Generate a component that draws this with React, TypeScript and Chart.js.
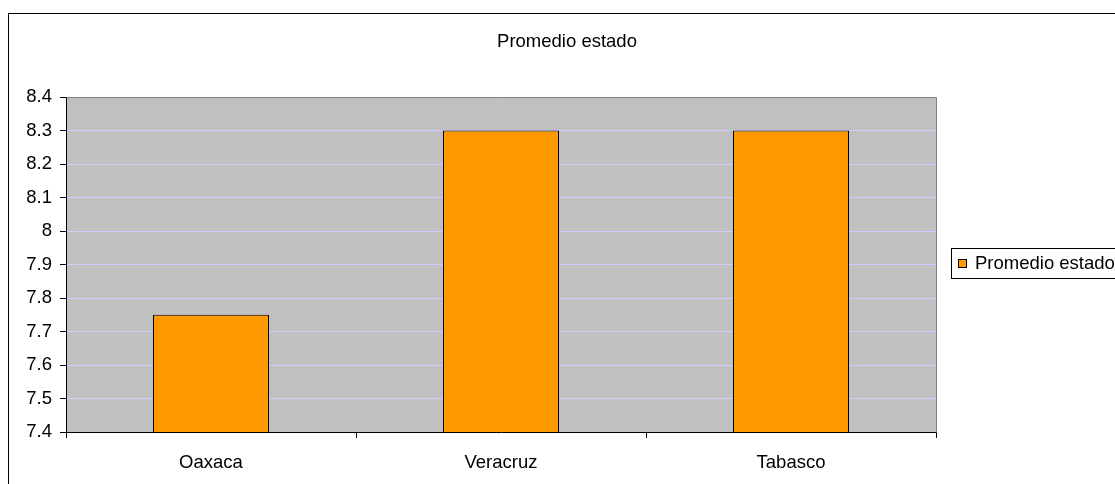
import React, { useEffect, useRef } from "react";
import { Chart, registerables } from "chart.js";

Chart.register(...registerables);

const categories: string[] = ["Oaxaca", "Veracruz", "Tabasco"];
const seriesLabel = "Promedio estado";
const seriesValues: number[] = [7.75, 8.3, 8.3];
const chartTitle = "Promedio estado";
const yMin = 7.4;
const yMax = 8.4;
const yStep = 0.1;

const FONT = "'Liberation Sans', Arial, sans-serif";
const FONT_SIZE = 18.5;

export default function App() {
  const ref = useRef<HTMLCanvasElement | null>(null);

  useEffect(() => {
    const canvas = ref.current;
    if (!canvas) return;

    const framePlugin = {
      id: "frame",
      beforeDraw(chart: any) {
        const { ctx, chartArea } = chart;
        ctx.save();
        ctx.fillStyle = "#ffffff";
        ctx.fillRect(0, 0, chart.width, chart.height);
        ctx.fillStyle = "#C0C0C0";
        ctx.fillRect(chartArea.left, chartArea.top, chartArea.right - chartArea.left, chartArea.bottom - chartArea.top);
        ctx.restore();
      },
      afterDraw(chart: any) {
        const { ctx, chartArea } = chart;
        ctx.save();
        // outer frame
        ctx.strokeStyle = "#000000";
        ctx.lineWidth = 1;
        ctx.strokeRect(8.5, 13.5, chart.width + 20, chart.height + 20);
        // title
        ctx.fillStyle = "#000000";
        ctx.font = `${FONT_SIZE}px ${FONT}`;
        ctx.textBaseline = "middle";
        ctx.textAlign = "center";
        ctx.fillText(chartTitle, 567, 42);
        // plot top and right border
        ctx.strokeStyle = "#808080";
        ctx.beginPath();
        ctx.moveTo(Math.round(chartArea.left) + 0.5, Math.round(chartArea.top) + 0.5);
        ctx.lineTo(Math.round(chartArea.right) + 0.5, Math.round(chartArea.top) + 0.5);
        ctx.lineTo(Math.round(chartArea.right) + 0.5, Math.round(chartArea.bottom) + 0.5);
        ctx.stroke();
        // legend
        const lx = 951.5;
        const ly = 248.5;
        ctx.strokeStyle = "#000000";
        ctx.fillStyle = "#ffffff";
        ctx.fillRect(lx, ly, 200, 30);
        ctx.strokeRect(lx, ly, 200, 30);
        ctx.fillStyle = "#FF9900";
        ctx.fillRect(958.5, 259.5, 8, 8);
        ctx.strokeRect(958.5, 259.5, 8, 8);
        ctx.fillStyle = "#000000";
        ctx.textAlign = "left";
        const label = chart.data.datasets[0].label as string;
        ctx.fillText(label, 975, 264);
        ctx.restore();
      },
    };

    const chart = new Chart(canvas, {
      type: "bar",
      data: {
        labels: categories,
        datasets: [
          {
            label: seriesLabel,
            data: seriesValues,
            backgroundColor: "#FF9900",
            borderColor: "#000000",
            borderWidth: 1,
            categoryPercentage: 1,
            barPercentage: 0.4,
          },
        ],
      },
      options: {
        responsive: false,
        animation: false,
        devicePixelRatio: 1,
        layout: { padding: { left: 0, right: 179, top: 97, bottom: 0 } },
        plugins: {
          legend: { display: false },
          tooltip: { enabled: false },
          title: { display: false },
        },
        scales: {
          x: {
            offset: true,
            grid: {
              display: true,
              offset: true,
              drawOnChartArea: false,
              drawTicks: true,
              tickLength: 6,
              tickColor: "#000000",
              color: "#000000",
            },
            border: { display: true, color: "#000000", width: 1 },
            ticks: {
              color: "#000000",
              font: { family: FONT, size: FONT_SIZE },
              padding: 14,
              maxRotation: 0,
            },
            afterFit(scale: any) {
              scale.height = 52;
            },
          },
          y: {
            min: yMin,
            max: yMax,
            grid: {
              color: "#CCCCFF",
              lineWidth: 1,
              tickLength: 6,
              tickColor: "#000000",
            },
            border: { display: true, color: "#000000", width: 1 },
            ticks: {
              stepSize: yStep,
              color: "#000000",
              font: { family: FONT, size: FONT_SIZE },
              padding: 8,
              callback: (value: any) => String(Math.round(Number(value) * 10) / 10),
            },
            afterFit(scale: any) {
              scale.width = 66;
            },
          },
        },
      },
      plugins: [framePlugin],
    } as any);

    return () => {
      chart.destroy();
    };
  }, []);

  return (
    <div style={{ position: "fixed", left: 0, top: 0, width: 1115, height: 484, background: "#fff" }}>
      <canvas ref={ref} width={1115} height={484} style={{ display: "block", width: 1115, height: 484 }} />
    </div>
  );
}
